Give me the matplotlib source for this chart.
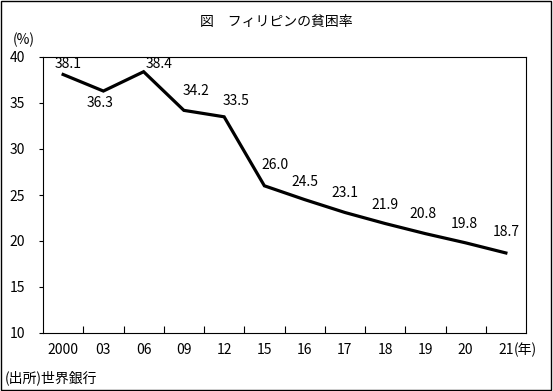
import matplotlib.pyplot as plt
from matplotlib.patches import Rectangle

plt.rcParams['font.family'] = ['Noto Sans CJK JP', 'DejaVu Sans']

years = ['2000', '03', '06', '09', '12', '15', '16', '17', '18', '19', '20', '21']
rates = [38.1, 36.3, 38.4, 34.2, 33.5, 26.0, 24.5, 23.1, 21.9, 20.8, 19.8, 18.7]
# ラベルの位置（ピクセル単位のずらし）
label_dx = [5, -3, 15, 12, 12, 11, 0, 0, 0, -2, -1, 0]
label_dy = [10, -12, 8, 19, 16, 21, 18, 19, 19, 20, 19, 21]

fig = plt.figure(figsize=(5.53, 3.91), dpi=100)
ax = fig.add_axes([43 / 553, 1 - 333 / 391, 483 / 553, 276 / 391])

x = list(range(len(years)))
ax.plot(x, rates, color='black', lw=2.3, solid_joinstyle='miter')

for i, v in enumerate(rates):
    ax.annotate(f'{v:.1f}', (i, v), xytext=(label_dx[i], label_dy[i]),
                textcoords='offset pixels', ha='center', va='center', fontsize=10)

ax.set_xlim(-0.5, len(years) - 0.5)
ax.set_ylim(10, 40)
ax.set_yticks(range(10, 41, 5))
ax.tick_params(axis='y', direction='out', length=3, width=0.8, labelsize=10, pad=10)

# x軸の目盛りは区切り位置に内向き
ax.set_xticks([i + 0.5 for i in range(len(years) - 1)])
ax.set_xticklabels([])
ax.tick_params(axis='x', direction='in', length=5, width=0.8)
for i, y in enumerate(years):
    ax.text(i, -0.06, y, transform=ax.get_xaxis_transform(), ha='center', va='center', fontsize=10)
ax.annotate('(年)', (len(years) - 1, -0.06), xycoords=('data', 'axes fraction'),
            xytext=(8, 0), textcoords='offset pixels', ha='left', va='center', fontsize=10)

for s in ax.spines.values():
    s.set_linewidth(0.8)

fig.text(0.5, 1 - 22 / 391, '図　フィリピンの貧困率', ha='center', va='center', fontsize=10)
fig.text(13 / 553, 1 - 40 / 391, '(%)', ha='left', va='center', fontsize=10)
fig.text(5 / 553, 1 - 378 / 391, '(出所)世界銀行', ha='left', va='center', fontsize=10)

fig.patches.append(Rectangle((0.002, 0.003), 0.994, 0.994, transform=fig.transFigure,
                             fill=False, edgecolor='black', lw=1))

fig.savefig('out.png', dpi=100)
